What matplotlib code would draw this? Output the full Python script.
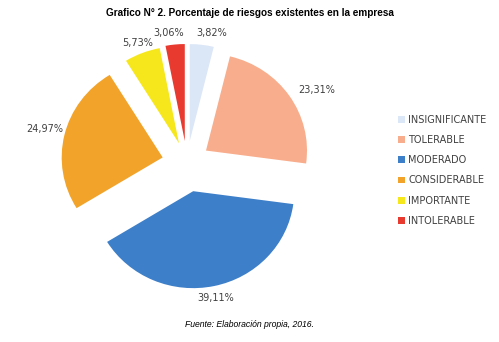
import numpy as np
import matplotlib.pyplot as plt

categorias = ["INSIGNIFICANTE", "TOLERABLE", "MODERADO", "CONSIDERABLE", "IMPORTANTE", "INTOLERABLE"]
porcentajes = [3.82, 23.31, 39.11, 24.97, 5.73, 3.06]
colores = ["#dbe6f6", "#f8ad8c", "#3d7fc8", "#f2a32a", "#f6e71c", "#e93a2f"]

etiquetas = [f"{p:.2f}%".replace(".", ",") for p in porcentajes]

# separacion de cada porcion, distancia y giro de las etiquetas (pixeles, grados)
separacion = [23, 23, 30, 25, 22, 23]
dist_etiq = [132, 149, 138, 146, 130, 131]
giro_etiq = [-4, -5, 0, 0, 1, 2.5]

fig = plt.figure(figsize=(4.99, 3.42), dpi=100)
ax = fig.add_axes([0, 0, 1, 1])

# el grafico original esta un poco aplastado en vertical
escala_y = 0.96
cx, cy = 187, (342 - 163) / escala_y
radio = 101

wedges, textos = ax.pie(porcentajes, colors=colores, startangle=90, counterclock=False,
                        center=(cx, cy), radius=radio, explode=separacion,
                        labels=etiquetas, labeldistance=1.2,
                        textprops=dict(fontsize=7, color="#404040"))
for w, t, d, g in zip(wedges, textos, dist_etiq, giro_etiq):
    ang = np.deg2rad((w.theta1 + w.theta2) / 2 + g)
    t.set_position((cx + d * np.cos(ang), cy + d * np.sin(ang) / escala_y))
    t.set_horizontalalignment("center")
    t.set_verticalalignment("center")

# la funcion pie cambia los limites, se ponen despues
ax.set_xlim(0, 499)
ax.set_ylim(0, 342 / escala_y)
ax.set_aspect("auto")
ax.axis("off")

fig.text(0.5, 0.977, "Grafico N° 2. Porcentaje de riesgos existentes en la empresa",
         ha="center", va="top", fontsize=7.2, fontweight="bold", family="Liberation Sans")
fig.text(0.5, 0.05, "Fuente: Elaboración propia, 2016.", ha="center", va="center",
         fontsize=6.2, style="italic", family="Liberation Sans")

leg = ax.legend(wedges, categorias, loc="upper left", bbox_to_anchor=(0.781, 0.69),
                frameon=False, fontsize=7, handlelength=0.7, handleheight=0.7,
                labelspacing=1.05, handletextpad=0.3)
for t in leg.get_texts():
    t.set_color("#404040")

fig.savefig("out.png", dpi=100)
